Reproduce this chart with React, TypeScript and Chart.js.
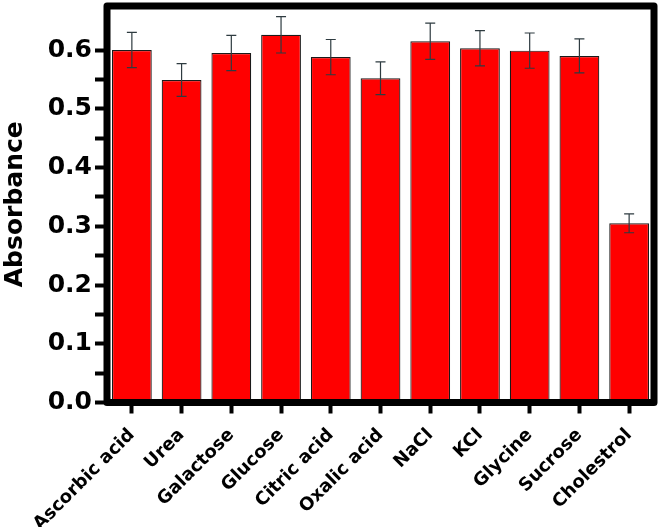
import React, { useEffect, useRef } from "react";
import { Chart, registerables } from "chart.js";

Chart.register(...registerables);

const categories = [
  "Ascorbic acid", "Urea", "Galactose", "Glucose", "Citric acid", "Oxalic acid",
  "NaCl", "KCl", "Glycine", "Sucrose", "Cholestrol",
];
const absorbance = [0.600, 0.549, 0.595, 0.626, 0.588, 0.552, 0.615, 0.603, 0.599, 0.590, 0.305];
const errors = [0.030, 0.028, 0.030, 0.031, 0.030, 0.028, 0.031, 0.030, 0.030, 0.029, 0.016];
const yMin = 0;
const yMax = 0.675;
const yStep = 0.05;

const FONT = "'DejaVu Sans', Arial, sans-serif";

const errorBarPlugin = {
  id: "errorBars",
  afterDatasetsDraw(chart: any) {
    const meta = chart.getDatasetMeta(0);
    const ys = chart.scales.y;
    const ctx = chart.ctx;
    ctx.save();
    ctx.strokeStyle = "#2e3b40";
    ctx.lineWidth = 1.2;
    meta.data.forEach((bar: any, i: number) => {
      const v = absorbance[i];
      const e = errors[i];
      const x = bar.x;
      const yt = ys.getPixelForValue(v + e);
      const yb = ys.getPixelForValue(v - e);
      ctx.beginPath();
      ctx.moveTo(x, yt);
      ctx.lineTo(x, yb);
      ctx.moveTo(x - 5, yt);
      ctx.lineTo(x + 5, yt);
      ctx.moveTo(x - 5, yb);
      ctx.lineTo(x + 5, yb);
      ctx.stroke();
    });
    ctx.restore();
  },
};

const framePlugin = {
  id: "frame",
  afterDraw(chart: any) {
    const { left, right, top, bottom } = chart.chartArea;
    const ctx = chart.ctx;
    ctx.save();
    ctx.strokeStyle = "#000";
    ctx.lineWidth = 7;
    ctx.lineJoin = "round";
    ctx.strokeRect(left, top, right - left, bottom - top);
    ctx.restore();
  },
};

export default function App() {
  const ref = useRef<HTMLCanvasElement | null>(null);
  useEffect(() => {
    if (!ref.current) return;
    const chart = new Chart(ref.current, {
      type: "bar",
      data: {
        labels: categories,
        datasets: [
          {
            data: absorbance,
            backgroundColor: "#ff0000",
            borderColor: "#1a1a1a",
            borderWidth: 1.2,
            barPercentage: 0.8,
            categoryPercentage: 1.0,
          },
        ],
      },
      options: {
        animation: false,
        responsive: false,
        maintainAspectRatio: false,
        layout: { padding: { top: 6, right: 7, left: 0, bottom: 0 } },
        plugins: { legend: { display: false }, tooltip: { enabled: false } },
        scales: {
          x: {
            offset: true,
            grid: {
              display: true,
              drawOnChartArea: false,
              drawTicks: true,
              tickLength: 11,
              tickWidth: 4,
              tickColor: "#000",
              offset: false,
            },
            border: { display: false },
            ticks: {
              autoSkip: false,
              minRotation: 45,
              maxRotation: 45,
              color: "#000",
              padding: 11,
              font: { family: FONT, size: 18, weight: "bold" },
            },
            afterFit(scale: any) {
              scale.height = 124.5;
              scale.paddingLeft = 0;
              scale.paddingRight = 0;
            },
          },
          y: {
            min: yMin,
            max: yMax,
            grid: {
              display: true,
              drawOnChartArea: false,
              drawTicks: true,
              tickLength: 12,
              tickWidth: 4,
              tickColor: "#000",
            },
            border: { display: false },
            afterBuildTicks(scale: any) {
              scale.ticks = scale.ticks.filter(
                (t: any) => Math.abs(t.value / yStep - Math.round(t.value / yStep)) < 1e-6
              );
            },
            ticks: {
              stepSize: yStep,
              color: "#000",
              padding: 3,
              font: { family: FONT, size: 25, weight: "bold" },
              callback(value: any) {
                const v = Number(value);
                const k = Math.round(v * 100);
                return k % 10 === 0 ? v.toFixed(1) : "";
              },
            },
            title: {
              display: true,
              text: "Absorbance",
              color: "#000",
              padding: { top: 0, bottom: 2 },
              font: { family: FONT, size: 25, weight: "bold" },
            },
            afterFit(scale: any) {
              scale.width = 107;
              scale.paddingTop = 0;
              scale.paddingBottom = 0;
            },
          },
        },
      },
      plugins: [errorBarPlugin, framePlugin],
    });
    return () => chart.destroy();
  }, []);
  return (
    <div style={{ position: "fixed", left: 0, top: 0, width: 661, height: 527, background: "#fff" }}>
      <canvas ref={ref} width={661} height={527} style={{ width: 661, height: 527, display: "block" }} />
    </div>
  );
}
